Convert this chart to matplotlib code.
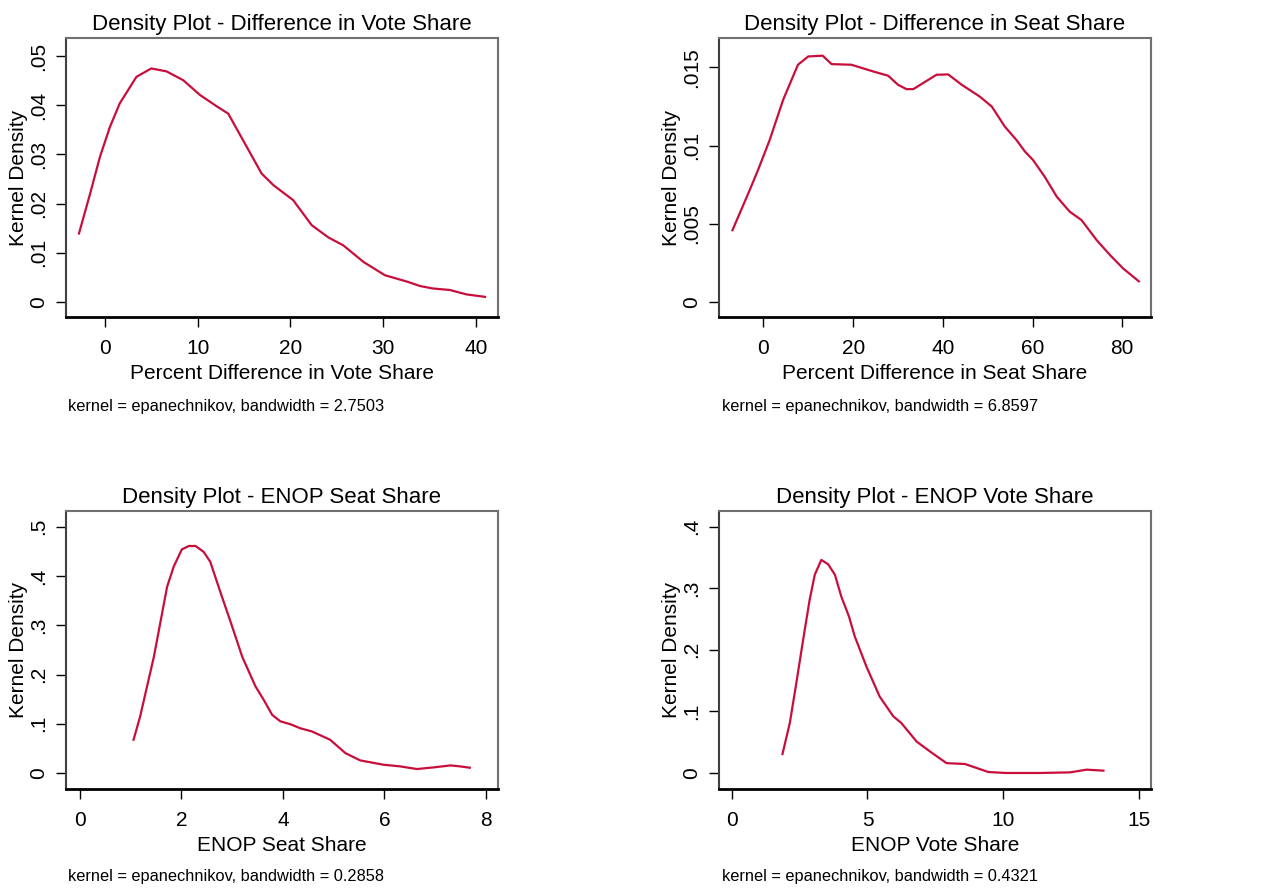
import numpy as np
import matplotlib
matplotlib.use('Agg')
import matplotlib.pyplot as plt

plt.rcParams['font.family'] = ['Liberation Sans', 'DejaVu Sans']

# --- data ---
# Difference in vote share
vote_x = [-2.8, -1.6, -0.54, 0.54, 1.6, 3.4, 5.0, 6.65, 8.45, 10.25, 12.05, 13.3, 15.1, 16.9,
          18.2, 20.3, 22.3, 24.1, 25.7, 27.9, 30.2, 32.6, 34.0, 35.4, 37.2, 39.0, 41.0]
vote_y = [0.0139, 0.022, 0.0295, 0.0356, 0.0404, 0.0458, 0.0475, 0.0469, 0.0451, 0.0421, 0.0398,
          0.0383, 0.0322, 0.0261, 0.0237, 0.0207, 0.0156, 0.0131, 0.0115, 0.0081, 0.0054, 0.0041,
          0.0032, 0.0027, 0.0024, 0.0015, 0.001]

# Difference in seat share
seat_x = [-6.9, -3.05, -1.2, 1.4, 4.4, 7.7, 10.0, 13.2, 15.2, 19.6, 24.5, 27.8, 30.0, 31.9, 33.4,
          35.6, 38.6, 41.2, 44.2, 48.2, 50.9, 53.8, 56.4, 58.3, 60.1, 62.7, 65.4, 68.3, 70.9,
          74.3, 77.3, 80.2, 83.7]
seat_y = [0.00459, 0.00716, 0.00844, 0.01036, 0.01293, 0.01517, 0.0157, 0.01575, 0.01521, 0.01517,
          0.01474, 0.01447, 0.01389, 0.01361, 0.01361, 0.014, 0.01453, 0.01455, 0.01389, 0.01314,
          0.0125, 0.01122, 0.01036, 0.00962, 0.00908, 0.00801, 0.00673, 0.00577, 0.00524, 0.00395,
          0.00299, 0.00214, 0.00132]

# ENOP seat share
enops_x = [1.06, 1.19, 1.46, 1.72, 1.85, 2.01, 2.15, 2.28, 2.44, 2.57, 2.80, 2.97, 3.20, 3.46,
           3.62, 3.79, 3.95, 4.15, 4.34, 4.57, 4.93, 5.23, 5.52, 5.98, 6.31, 6.64, 6.97, 7.30,
           7.49, 7.68]
enops_y = [0.0676, 0.115, 0.236, 0.378, 0.419, 0.454, 0.461, 0.461, 0.449, 0.429, 0.358, 0.307,
           0.236, 0.176, 0.149, 0.118, 0.105, 0.099, 0.091, 0.0845, 0.0676, 0.0405, 0.0257,
           0.0169, 0.0135, 0.0081, 0.0115, 0.0155, 0.0135, 0.0108]

# ENOP vote share
enopv_x = [1.87, 2.14, 2.38, 2.63, 2.87, 3.06, 3.30, 3.55, 3.80, 4.04, 4.32, 4.53, 4.96, 5.45,
           5.95, 6.25, 6.81, 7.30, 7.91, 8.59, 9.45, 10.1, 11.35, 12.46, 13.07, 13.69]
enopv_y = [0.0308, 0.081, 0.146, 0.216, 0.281, 0.322, 0.346, 0.339, 0.322, 0.286, 0.254, 0.222,
           0.173, 0.124, 0.092, 0.081, 0.051, 0.035, 0.016, 0.0146, 0.0016, 0.0, 0.0, 0.001,
           0.0054, 0.0038]

titles = ['Density Plot - Difference in Vote Share', 'Density Plot - Difference in Seat Share',
          'Density Plot - ENOP Seat Share', 'Density Plot - ENOP Vote Share']
xlabels = ['Percent Difference in Vote Share', 'Percent Difference in Seat Share',
           'ENOP Seat Share', 'ENOP Vote Share']
notes = ['kernel = epanechnikov, bandwidth = 2.7503', 'kernel = epanechnikov, bandwidth = 6.8597',
         'kernel = epanechnikov, bandwidth = 0.2858', 'kernel = epanechnikov, bandwidth = 0.4321']
xticks = [[0, 10, 20, 30, 40], [0, 20, 40, 60, 80], [0, 2, 4, 6, 8], [0, 5, 10, 15]]
yticks = [[0, .01, .02, .03, .04, .05], [0, .005, .01, .015],
          [0, .1, .2, .3, .4, .5], [0, .1, .2, .3, .4]]
ytlabels = [['0', '.01', '.02', '.03', '.04', '.05'], ['0', '.005', '.01', '.015'],
            ['0', '.1', '.2', '.3', '.4', '.5'], ['0', '.1', '.2', '.3', '.4']]
xs = [vote_x, seat_x, enops_x, enopv_x]
ys = [vote_y, seat_y, enops_y, enopv_y]

xlims = [(-4.2, 42.4), (-9.9, 86.4), (-0.27, 8.235), (-0.467, 15.44)]
ylims = [(-0.0031, 0.0537), (-0.00096, 0.01688), (-0.0324, 0.532), (-0.026, 0.4254)]

W, H = 1279, 892
fig = plt.figure(figsize=(W/100, H/100), dpi=100)
fig.patch.set_facecolor('white')

# boxes in pixels: left, top, right, bottom
boxes = [(66, 38, 498, 317), (719, 38, 1151, 317), (66, 511, 498, 789), (719, 511, 1151, 789)]
note_pos = [(68, 407), (722, 407), (68, 877), (722, 877)]
LINE = '#C80F3C'

for i in range(4):
    l, t, r, b = boxes[i]
    ax = fig.add_axes([l/W, 1 - b/H, (r - l)/W, (b - t)/H])
    ax.plot(xs[i], ys[i], color=LINE, lw=1.6)
    ax.set_xlim(*xlims[i])
    ax.set_ylim(*ylims[i])
    ax.set_xticks(xticks[i])
    ax.set_yticks(yticks[i])
    ax.set_yticklabels(ytlabels[i], rotation=90, va='center')
    ax.tick_params(axis='both', labelsize=15, length=7, width=1, color='black')
    ax.tick_params(axis='x', pad=9)
    ax.tick_params(axis='y', pad=6)
    for s in ['top', 'right', 'left']:
        ax.spines[s].set_color('#707070')
        ax.spines[s].set_linewidth(1.5)
    ax.spines['left'].set_color('#404040')
    ax.spines['bottom'].set_color('black')
    ax.spines['bottom'].set_linewidth(2)
    ax.set_title(titles[i], fontsize=16, pad=6)
    ax.set_xlabel(xlabels[i], fontsize=15, labelpad=4)
    ax.set_ylabel('Kernel Density', fontsize=15, labelpad=1)
    nx, ny = note_pos[i]
    fig.text(nx/W, 1 - ny/H, notes[i], fontsize=11.8, va='center', ha='left')

fig.savefig('out.png', dpi=100)
